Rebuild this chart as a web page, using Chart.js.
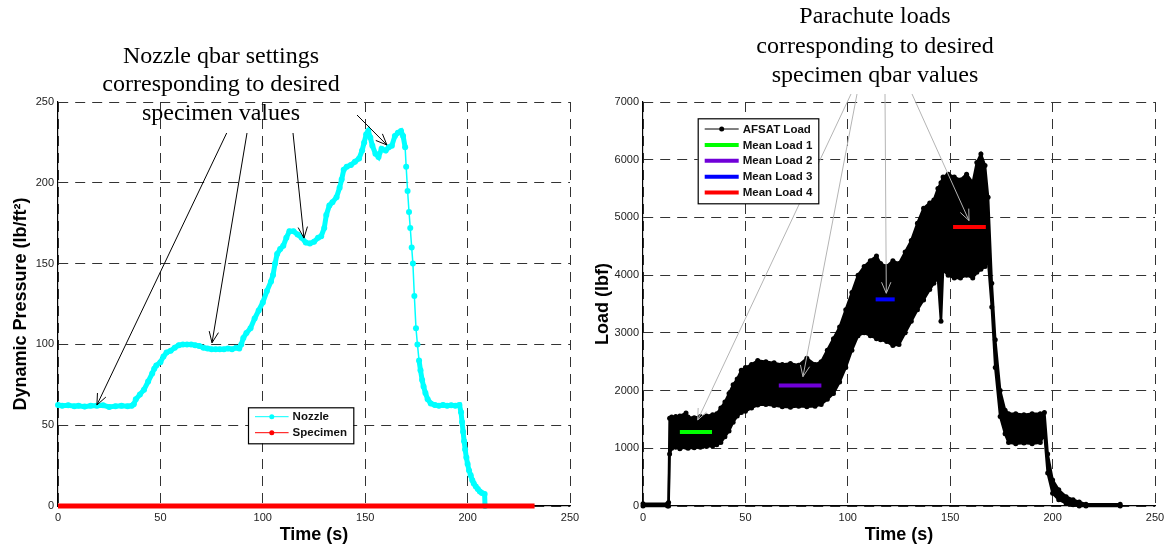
<!DOCTYPE html>
<html>
<head>
<meta charset="utf-8">
<script src="https://cdn.jsdelivr.net/npm/chart.js@4.4.1/dist/chart.umd.min.js"></script>
<style>
  body { margin: 0; background: #fff; }
  #wrap { position: relative; width: 1170px; height: 548px; }
  canvas { position: absolute; top: 0; }
  #qbarChart { left: 0; }
  #loadChart { left: 585px; }
</style>
</head>
<body>
<div id="wrap">
  <canvas id="qbarChart" width="585" height="548"></canvas>
  <canvas id="loadChart" width="585" height="548"></canvas>
</div>
<script>
// ---- data ----
const timeTicks = [0, 50, 100, 150, 200, 250];
const pressureTicks = [0, 50, 100, 150, 200, 250];
const loadTicks = [0, 1000, 2000, 3000, 4000, 5000, 6000, 7000];

// nozzle dynamic pressure (lb/ft^2)
const nozzleTime = [
  0, 2, 5, 8, 10, 13, 16, 19, 22, 25,
  28, 31, 34, 36, 37, 38, 40, 42, 44, 46,
  47, 48, 50, 51.5, 53, 55, 57, 59, 61, 63,
  65, 67, 69, 71, 73, 75, 77, 79, 81, 83,
  85, 87, 88.5, 89.5, 90.5, 92, 94, 96, 98, 100,
  102, 104, 105, 106, 107, 108.5, 110, 111.5, 113, 115,
  117, 119, 121, 123, 125, 127, 128.5, 130, 131, 132.5,
  134, 136, 137.5, 138.5, 139.5, 141, 143, 145, 147, 148.5,
  149.5, 150.5, 151.5, 152.5, 153.5, 155, 156.5, 158, 160, 161.5,
  163, 164.5, 166, 167.5, 168.5, 169.5, 170, 170.7, 171.4, 172,
  172.7, 173.3, 174, 174.8, 175.5, 176.3, 177, 177.8, 178.5, 179.4,
  180.5, 182, 184, 186, 188, 190, 192, 194, 196, 196.8,
  197.3, 197.8, 198.3, 198.8, 199.4, 200, 200.7, 201.5, 202.3, 203,
  204, 205, 206, 207, 208.3, 208.5
];
const nozzleQ = [
  62.5, 62, 62.3, 61.8, 62, 61.5, 62, 62, 62.3, 61.3,
  61.8, 62, 61.7, 62, 63, 66, 69, 72, 77, 82,
  85, 87, 89, 92.5, 95, 96, 98, 99.5, 100, 100,
  100, 99.5, 99, 98, 97.5, 97, 97, 97, 97, 97.5,
  97, 98, 97.5, 100, 104, 107, 110, 116, 121, 126,
  133, 139, 143, 150, 156, 159, 161, 166, 170, 170,
  168, 166, 163, 162.5, 163.5, 166, 167, 172, 180, 186,
  188, 191, 197, 202, 208, 210, 211, 213, 215, 220,
  225, 230, 232, 228, 223, 218, 216, 221, 220, 222,
  223, 229, 231, 232, 229, 222, 210, 195, 182, 172,
  160, 150, 130, 110, 100, 90, 84, 78, 74, 70,
  66, 63.5, 62.5, 62, 62.5, 62, 62.3, 62, 62.5, 58,
  52, 46, 40, 35, 30, 26, 22, 19, 16, 14,
  12, 10.5, 9, 8, 7.4, 0
];
const specimenTime = [0, 232.7];
const specimenQ = [0, 0];

// AFSAT load (lbf): upper and lower edge of the noisy trace
const afsatTime = [
  0, 12, 12.5, 13, 14, 16, 18, 21, 22, 25,
  28, 31, 34, 36, 38, 40, 42, 44, 46, 48,
  50, 53, 56, 60, 64, 68, 72, 76, 80, 84,
  87, 90, 93, 96, 99, 102, 105, 108, 111, 114,
  116, 119, 122, 125, 128, 131, 134, 137, 140, 142,
  144, 145.5, 146.5, 149, 152, 155, 158, 161, 163, 165,
  167, 168.5, 170.3, 172, 174.4, 176.8, 178.5, 182, 186, 190,
  194, 196, 197.6, 200, 203, 206.6, 210, 213, 216.3, 233
];
const afsatUpper = [
  40, 40, 60, 1520, 1540, 1550, 1560, 1610, 1540, 1530,
  1550, 1560, 1580, 1600, 1700, 1800, 1950, 2100, 2200, 2350,
  2400, 2450, 2520, 2500, 2480, 2450, 2470, 2440, 2560, 2450,
  2500, 2700, 2900, 3100, 3400, 3700, 4000, 4150, 4250, 4330,
  4200, 4150, 4250, 4200, 4400, 4600, 4900, 5160, 5250, 5300,
  5500, 5600, 5700, 5750, 5700, 5650, 5750, 5600, 5950, 6100,
  5900, 5350, 3860, 2880, 2000, 1660, 1600, 1600, 1580, 1600,
  1600, 1620, 900, 450, 280, 160, 110, 70, 30, 30
];
const afsatLower = [
  0, 0, 0, 900, 1000, 1020, 990, 1020, 1000, 1010,
  1020, 1030, 1040, 1060, 1100, 1200, 1300, 1450, 1560, 1620,
  1640, 1700, 1750, 1760, 1740, 1720, 1710, 1730, 1720, 1730,
  1760, 1850, 1950, 2150, 2400, 2700, 2950, 3000, 2950, 2900,
  2880, 2850, 2780, 2800, 3000, 3200, 3400, 3570, 3750, 3860,
  3950, 3200, 4090, 4000, 3950, 3950, 4000, 3950, 4050, 4100,
  4150, 4250, 3450, 2400, 1550, 1250, 1100, 1080, 1090, 1080,
  1100, 1250, 570, 220, 110, 45, 20, 0, 0, 0
];

const meanLoadLabels = ["Mean Load 1", "Mean Load 2", "Mean Load 3", "Mean Load 4"];
const meanLoadStart = [18, 66.3, 113.6, 151.4];
const meanLoadEnd = [33.7, 87.1, 122.9, 167.4];
const meanLoadValue = [1282, 2090, 3580, 4835];

// arrow tips, in data units
const qbarArrowTips = [[19, 62.5], [75.2, 101], [120.1, 165.8], [160.6, 223.4]];
const loadArrowTips = [[26.7, 1490], [78.1, 2241], [118.8, 3686], [159.2, 4945]];

const pts = (xs, ys) => xs.map((x, i) => ({ x: x, y: ys[i] }));

function drawArrow(ctx, x1, y1, x2, y2, color) {
  const ang = Math.atan2(y2 - y1, x2 - x1);
  const len = 12, spread = 0.4;
  ctx.strokeStyle = color;
  ctx.lineWidth = 1;
  ctx.beginPath();
  ctx.moveTo(x1, y1);
  ctx.lineTo(x2, y2);
  ctx.moveTo(x2 - len * Math.cos(ang - spread), y2 - len * Math.sin(ang - spread));
  ctx.lineTo(x2, y2);
  ctx.lineTo(x2 - len * Math.cos(ang + spread), y2 - len * Math.sin(ang + spread));
  ctx.stroke();
}

// titles, arrows and the boxed legend
const notesPlugin = {
  id: "notes",
  afterDraw(chart, args, o) {
    const ctx = chart.ctx;
    const xs = chart.scales.x, ys = chart.scales.y;
    ctx.save();
    ctx.font = '24px "Liberation Serif"';
    ctx.fillStyle = "#000";
    ctx.textAlign = "center";
    ctx.textBaseline = "alphabetic";
    o.lines.forEach((t, i) => ctx.fillText(t, o.textX, o.baselines[i]));

    o.tips.forEach((tip, i) => {
      drawArrow(ctx, o.starts[i][0], o.starts[i][1],
        xs.getPixelForValue(tip[0]), ys.getPixelForValue(tip[1]), o.arrowColor);
    });

    const L = o.legend;
    ctx.fillStyle = "#fff";
    ctx.fillRect(L.x, L.y, L.w, L.h);
    ctx.strokeStyle = "#000";
    ctx.lineWidth = 1.2;
    ctx.strokeRect(L.x + 0.5, L.y + 0.5, L.w, L.h);
    ctx.font = 'bold 11.5px "Liberation Sans"';
    ctx.textAlign = "left";
    ctx.textBaseline = "middle";
    L.items.forEach((it, i) => {
      const y = L.firstRow + i * L.step;
      const x0 = L.x + 7, x1 = L.x + L.sample;
      ctx.strokeStyle = it.color;
      ctx.lineWidth = it.dot ? 1 : 4;
      ctx.beginPath();
      ctx.moveTo(x0, y);
      ctx.lineTo(x1, y);
      ctx.stroke();
      if (it.dot) {
        ctx.fillStyle = it.color;
        ctx.beginPath();
        ctx.arc((x0 + x1) / 2, y, 2.5, 0, Math.PI * 2);
        ctx.fill();
      }
      ctx.fillStyle = "#111";
      ctx.fillText(it.label, x1 + 4, y + 0.5);
    });
    ctx.restore();
  }
};

function xAxis(ticks) {
  return {
    type: "linear",
    min: ticks[0],
    max: ticks[ticks.length - 1],
    afterBuildTicks: (s) => { s.ticks = ticks.map((v) => ({ value: v })); },
    afterFit: (s) => { s.height = 42; },
    grid: { color: "#333", lineWidth: 1, drawTicks: false },
    border: { display: true, color: "#000", width: 1.2, dash: [10, 7] },
    ticks: {
      color: "#222", font: { family: "Liberation Sans", size: 11 }, padding: 5, maxRotation: 0,
      callback: (v) => String(v)
    },
    title: {
      display: true, text: "Time (s)", color: "#000",
      font: { family: "Liberation Sans", size: 18, weight: "bold" },
      padding: { top: 0, bottom: 2 }
    }
  };
}

function yAxis(ticks, label, titlePad) {
  return {
    type: "linear",
    min: ticks[0],
    max: ticks[ticks.length - 1],
    afterBuildTicks: (s) => { s.ticks = ticks.map((v) => ({ value: v })); },
    afterFit: (s) => { s.width = 58; },
    grid: { color: "#333", lineWidth: 1, drawTicks: false },
    border: { display: true, color: "#000", width: 1.2, dash: [10, 7] },
    ticks: {
      color: "#222", font: { family: "Liberation Sans", size: 11 }, padding: 4,
      callback: (v) => String(v)
    },
    title: {
      display: true, text: label, color: "#000",
      font: { family: "Liberation Sans", size: 18, weight: "bold" },
      padding: { top: titlePad, bottom: 0 }
    }
  };
}

const baseOptions = {
  responsive: false,
  devicePixelRatio: 1,
  animation: false,
  events: [],
  layout: { padding: { top: 102, right: 15, left: 0, bottom: 0 } }
};

// ---- left: dynamic pressure ----
new Chart(document.getElementById("qbarChart"), {
  type: "line",
  data: {
    datasets: [
      {
        label: "Specimen",
        data: pts(specimenTime, specimenQ),
        borderColor: "#ff0000",
        borderWidth: 5,
        pointRadius: 0,
        clip: false
      },
      {
        label: "Nozzle",
        data: pts(nozzleTime, nozzleQ),
        borderColor: "#00ffff",
        backgroundColor: "#00ffff",
        borderWidth: 5,
        pointRadius: 3,
        pointBorderWidth: 0,
        tension: 0,
        clip: false,
        // only the big drop shows single dots joined by a thin line
        segment: {
          borderWidth: (c) => (Math.abs(c.p1.y - c.p0.y) > 15 ? 1.5 : undefined)
        }
      }
    ]
  },
  options: {
    ...baseOptions,
    scales: {
      x: xAxis(timeTicks),
      y: yAxis(pressureTicks, "Dynamic Pressure (lb/ft²)", 10.5)
    },
    plugins: {
      legend: { display: false },
      tooltip: { enabled: false },
      notes: {
        lines: ["Nozzle qbar settings", "corresponding to desired", "specimen values"],
        textX: 221,
        baselines: [62.7, 90.5, 119.5],
        starts: [[226.7, 133], [247, 133], [293, 133], [357, 115]],
        tips: qbarArrowTips,
        arrowColor: "#000",
        legend: {
          x: 248, y: 407.3, w: 105.3, h: 36, firstRow: 416.7, step: 16, sample: 40.6,
          items: [
            { label: "Nozzle", color: "#00ffff", dot: true },
            { label: "Specimen", color: "#ff0000", dot: true }
          ]
        }
      }
    }
  },
  plugins: [notesPlugin]
});

// ---- right: parachute load ----
const meanColors = ["#00ff00", "#7000d8", "#0000ff", "#ff0000"];
new Chart(document.getElementById("loadChart"), {
  type: "line",
  data: {
    datasets: [
      ...meanLoadValue.map((v, i) => ({
        label: meanLoadLabels[i],
        data: [{ x: meanLoadStart[i], y: v }, { x: meanLoadEnd[i], y: v }],
        borderColor: meanColors[i],
        borderWidth: 4,
        borderCapStyle: "butt",
        pointRadius: 0
      })),
      {
        label: "AFSAT Load",
        data: pts(afsatTime, afsatUpper),
        borderColor: "#000",
        backgroundColor: "#000",
        borderWidth: 2.5,
        pointRadius: 2.5,
        pointBorderWidth: 0,
        clip: false
      },
      {
        label: "AFSAT Load (lower)",
        data: pts(afsatTime, afsatLower),
        borderColor: "#000",
        backgroundColor: "#000",
        borderWidth: 2.5,
        pointRadius: 2.5,
        pointBorderWidth: 0,
        fill: "-1",
        clip: false
      }
    ]
  },
  options: {
    ...baseOptions,
    scales: {
      x: xAxis(timeTicks),
      y: yAxis(loadTicks, "Load (lbf)", 7)
    },
    plugins: {
      legend: { display: false },
      tooltip: { enabled: false },
      notes: {
        lines: ["Parachute loads", "corresponding to desired", "specimen qbar values"],
        textX: 290,
        baselines: [23.3, 52.7, 81.7],
        starts: [[266, 94], [272, 94], [300, 94], [327, 94]],
        tips: loadArrowTips,
        arrowColor: "#b4b4b4",
        legend: {
          x: 112.7, y: 118.3, w: 120.6, h: 85, firstRow: 129, step: 15.9, sample: 41,
          items: [
            { label: "AFSAT Load", color: "#000", dot: true },
            { label: "Mean Load 1", color: "#00ff00" },
            { label: "Mean Load 2", color: "#7000d8" },
            { label: "Mean Load 3", color: "#0000ff" },
            { label: "Mean Load 4", color: "#ff0000" }
          ]
        }
      }
    }
  },
  plugins: [notesPlugin]
});
</script>
</body>
</html>
